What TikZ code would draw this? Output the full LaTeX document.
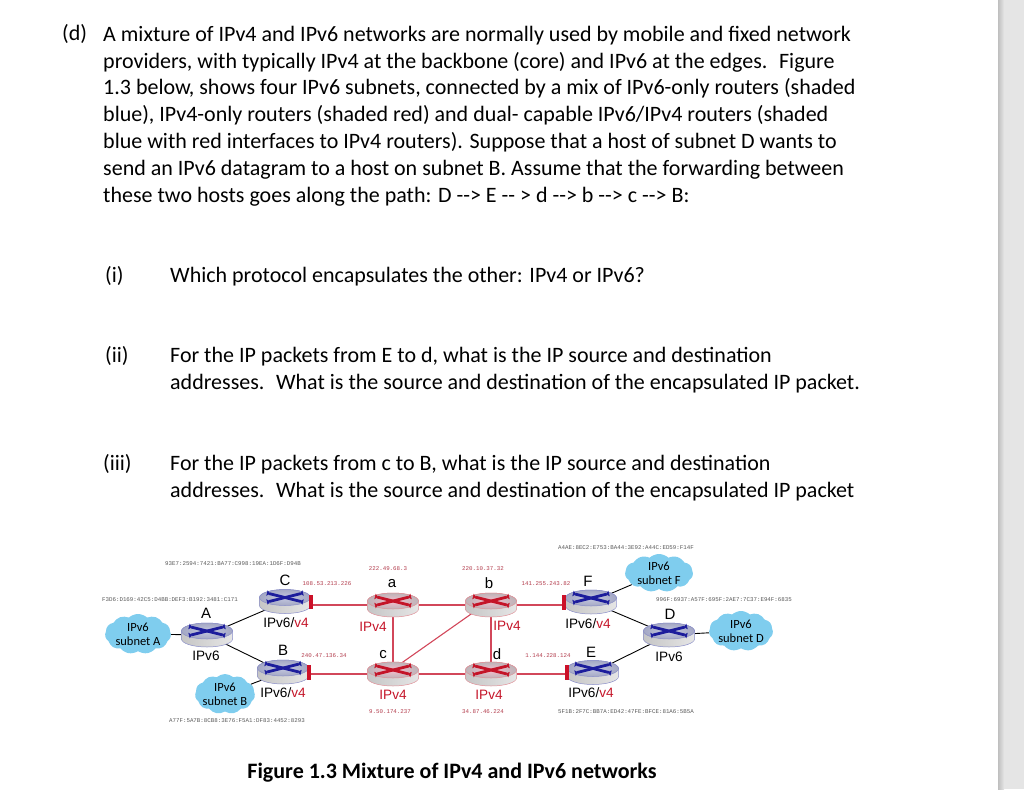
\documentclass[tikz,border=0pt]{standalone}
\usepackage{fontspec}
\setmainfont{Carlito}
\newfontfamily\labelfont{Liberation Sans}
\newfontfamily\addrfont{Liberation Mono}
\usetikzlibrary{arrows.meta,calc}
\usetikzlibrary{shapes}
\definecolor{linkred}{HTML}{D2475A}
\definecolor{barred}{HTML}{CC1028}
\definecolor{crossblue}{HTML}{1C1C9C}
\definecolor{crossred}{HTML}{C41428}
\definecolor{cloudblue}{HTML}{7FCDEE}
\definecolor{stripegray}{HTML}{E5E5E5}
\definecolor{edgeblue}{HTML}{8A8EC8}
\definecolor{edgered}{HTML}{E09098}
\definecolor{topblue}{HTML}{C4C8E0}
\definecolor{topbluedark}{HTML}{A4A8C4}
\definecolor{topred}{HTML}{F8BCCC}
\definecolor{topreddark}{HTML}{BCB4B8}
\newcommand{\routerbody}[5]{
	\begin{scope}[shift={(#1.center)},x=1pt,y=1pt]
		\draw [draw=#2, line width=.5pt, left color=gray!45, middle color=white, right color=gray!20] (-25.5,4) -- (-25.5,-4) arc (180:360:25.5 and 8) -- (25.5,4) arc (0:180:25.5 and 8) -- cycle;
		\draw [draw=#2, line width=.5pt, inner color=#4, outer color=#5] (0,4) ellipse (25.5 and 8);
		\draw [#3, line width=2.8pt, {Triangle[width=5.5pt,length=3pt,reversed]}-{Triangle[width=5.5pt,length=3pt,reversed]}] (-18,-0.5) -- (18,8.5);
		\draw [#3, line width=2.8pt, {Triangle[width=5.5pt,length=3pt,reversed]}-{Triangle[width=5.5pt,length=3pt,reversed]}] (-18,8.5) -- (18,-0.5);
	\end{scope}
}
\newcommand{\routersix}[1]{\routerbody{#1}{edgeblue}{crossblue}{topblue}{topbluedark}}
\newcommand{\routerfour}[1]{\routerbody{#1}{edgered}{crossred}{topred}{topreddark}}
\begin{document}
\begin{tikzpicture}[x=1pt,y=-1pt]
	\useasboundingbox (0,0) rectangle (1024,789);
	\fill [stripegray] (998,0) rectangle (1024,789);
	\shade [left color=gray!50, right color=stripegray] (998,0) rectangle (1004,789);
	\tikzstyle{every node}=[inner sep=0pt, font=\fontsize{22}{26.8}\selectfont]
	\draw (62,41) node (partd) [anchor=base west] {(d)};
	\draw (103,202) node (intro) [anchor=base west, align=left] {A mixture of IPv4 and IPv6 networks are normally used by mobile and fixed network\\providers, with typically IPv4 at the backbone (core) and IPv6 at the edges.~ Figure\\1.3 below, shows four IPv6 subnets, connected by a mix of IPv6-only routers (shaded\\blue), IPv4-only routers (shaded red) and dual- capable IPv6/IPv4 routers (shaded\\blue with red interfaces to IPv4 routers). Suppose that a host of subnet D wants to\\send an IPv6 datagram to a host on subnet B. Assume that the forwarding between\\these two hosts goes along the path: D -{}-> E -{}- > d -{}-> b -{}-> c -{}-> B:};
	\draw (105,282) node (parti) [anchor=base west] {(i)};
	\draw (170,282) node (qi) [anchor=base west] {Which protocol encapsulates the other: IPv4 or IPv6?};
	\draw (105,362) node (partii) [anchor=base west] {(ii)};
	\draw (170,389) node (qii) [anchor=base west, align=left] {For the IP packets from E to d, what is the IP source and destination\\addresses.~ What is the source and destination of the encapsulated IP packet.};
	\draw (103,470) node (partiii) [anchor=base west] {(iii)};
	\draw (170,497) node (qiii) [anchor=base west, align=left] {For the IP packets from c to B, what is the IP source and destination\\addresses.~ What is the source and destination of the encapsulated IP packet};
	\draw (452,778) node (caption) [anchor=base] {\bfseries Figure 1.3 Mixture of IPv4 and IPv6 networks};
	\tikzstyle{every node}=[ellipse, minimum width=51pt, minimum height=24pt, inner sep=0pt]
	\draw (207,635) node (A) {};
	\draw (285,601.5) node (C) {};
	\draw (283,672) node (B) {};
	\draw (393,605) node (a) {};
	\draw (393,674) node (c) {};
	\draw (491,605) node (b) {};
	\draw (491,674) node (d) {};
	\draw (591,602) node (F) {};
	\draw (593,672.5) node (E) {};
	\draw (669,635) node (D) {};
	\tikzstyle{every node}=[cloud, cloud puffs=11, cloud puff arc=85, aspect=1.7, fill=cloudblue, inner sep=-4pt, align=center, font=\fontsize{12.5}{14}\selectfont]
	\draw (138,634) node (subnetA) [minimum width=66pt, minimum height=40pt] {IPv6\\subnet A};
	\draw (225,694) node (subnetB) [minimum width=60pt, minimum height=40pt] {IPv6\\subnet B};
	\draw (659,573) node (subnetF) [minimum width=68pt, minimum height=38pt] {IPv6\\subnet F};
	\draw (741,631) node (subnetD) [minimum width=64pt, minimum height=40pt] {IPv6\\subnet D};
	\draw [line width=.9pt] (subnetA) to (A);
	\draw [line width=.9pt] (A) to (C);
	\draw [line width=.9pt] (A) to (B);
	\draw [line width=.9pt] (subnetB) to (B);
	\draw [line width=.9pt] (subnetF) to (F);
	\draw [line width=.9pt] (F) to (D);
	\draw [line width=.9pt] (E) to (D);
	\draw [line width=.9pt] (subnetD) to (D);
	\draw [linkred, line width=1.1pt] (a -| C) to (a);
	\draw [linkred, line width=1.1pt] (a) to (b);
	\draw [linkred, line width=1.1pt] (b -| F) to (b);
	\draw [linkred, line width=1.1pt] (c -| B) to (c);
	\draw [linkred, line width=1.1pt] (c) to (d);
	\draw [linkred, line width=1.1pt] (d -| E) to (d);
	\draw [linkred, line width=1.1pt] (a) to (c);
	\draw [linkred, line width=1.1pt] (b) to (d);
	\draw [linkred, line width=1.1pt] ($(c.center)+(0,-5)$) to ($(b.center)+(0,-5)$);
	\routersix{A}
	\routersix{C}
	\routersix{B}
	\routersix{F}
	\routersix{E}
	\routersix{D}
	\routerfour{a}
	\routerfour{c}
	\routerfour{b}
	\routerfour{d}
	\fill [barred] (309,595) rectangle (313,609);
	\fill [barred] (307,665) rectangle (311,680);
	\fill [barred] (562,595) rectangle (566,610);
	\fill [barred] (565,665) rectangle (569,680);
	\tikzstyle{every node}=[inner sep=0pt, font=\labelfont\fontsize{15}{17}\selectfont]
	\draw (206,613) node (nameA) {A};
	\draw (285,580) node (nameC) {C};
	\draw (283,650) node (nameB) {B};
	\draw (392,584) node (namea) {a};
	\draw (383,655) node (namec) {c};
	\draw (489,583) node (nameb) {b};
	\draw (497,654) node (named) {d};
	\draw (588,581) node (nameF) {F};
	\draw (591,652) node (nameE) {E};
	\draw (670,614) node (nameD) {D};
	\tikzstyle{every node}=[inner sep=0pt, font=\labelfont\fontsize{13.6}{16}\selectfont]
	\draw (206,656) node (typeA) {IPv6};
	\draw (669,657) node (typeD) {IPv6};
	\draw (286,623) node (typeC) {IPv6/\textcolor{crossred}{v4}};
	\draw (283,693) node (typeB) {IPv6/\textcolor{crossred}{v4}};
	\draw (588,624) node (typeF) {IPv6/\textcolor{crossred}{v4}};
	\draw (591,693) node (typeE) {IPv6/\textcolor{crossred}{v4}};
	\draw (373,627) node (typea) [crossred] {IPv4};
	\draw (393,695) node (typec) [crossred] {IPv4};
	\draw (507,626) node (typeb) [crossred] {IPv4};
	\draw (489,695) node (typed) [crossred] {IPv4};
	\tikzstyle{every node}=[inner sep=0pt, text=black!65, font=\addrfont\fontsize{5.8}{7}\selectfont]
	\draw (233,564) node (addrC) {93E7:2594:7421:BA77:C998:19EA:1D6F:D94B};
	\draw (170,600) node (addrA) {F3D6:D169:42C5:D4BB:DEF3:B192:3481:C171};
	\draw (237,721) node (addrB) {A77F:5A7B:8CB8:3E76:F5A1:DF83:4452:8293};
	\draw (626,548) node (addrF) {A4AE:8EC2:E753:BA44:3E92:A44C:ED59:F14F};
	\draw (724,600) node (addrD) {996F:6937:A57F:695F:2AE7:7C37:E94F:6835};
	\draw (626,712) node (addrE) {5F1B:2F7C:BB7A:ED42:47FE:BFCE:81A6:5B5A};
	\tikzstyle{every node}=[inner sep=0pt, text=linkred!85!black, font=\addrfont\fontsize{5.8}{7}\selectfont]
	\draw (388,569) node (ipa) {222.49.68.3};
	\draw (327,584) node (ipC) {108.53.213.226};
	\draw (324,656) node (ipB) {240.47.136.34};
	\draw (390,712) node (ipc) {9.50.174.237};
	\draw (483,569) node (ipb) {220.10.37.32};
	\draw (546,584) node (ipF) {141.255.243.82};
	\draw (548,656) node (ipE) {1.144.228.124};
	\draw (483,712) node (ipd) {34.87.46.224};
\end{tikzpicture}
\end{document}
